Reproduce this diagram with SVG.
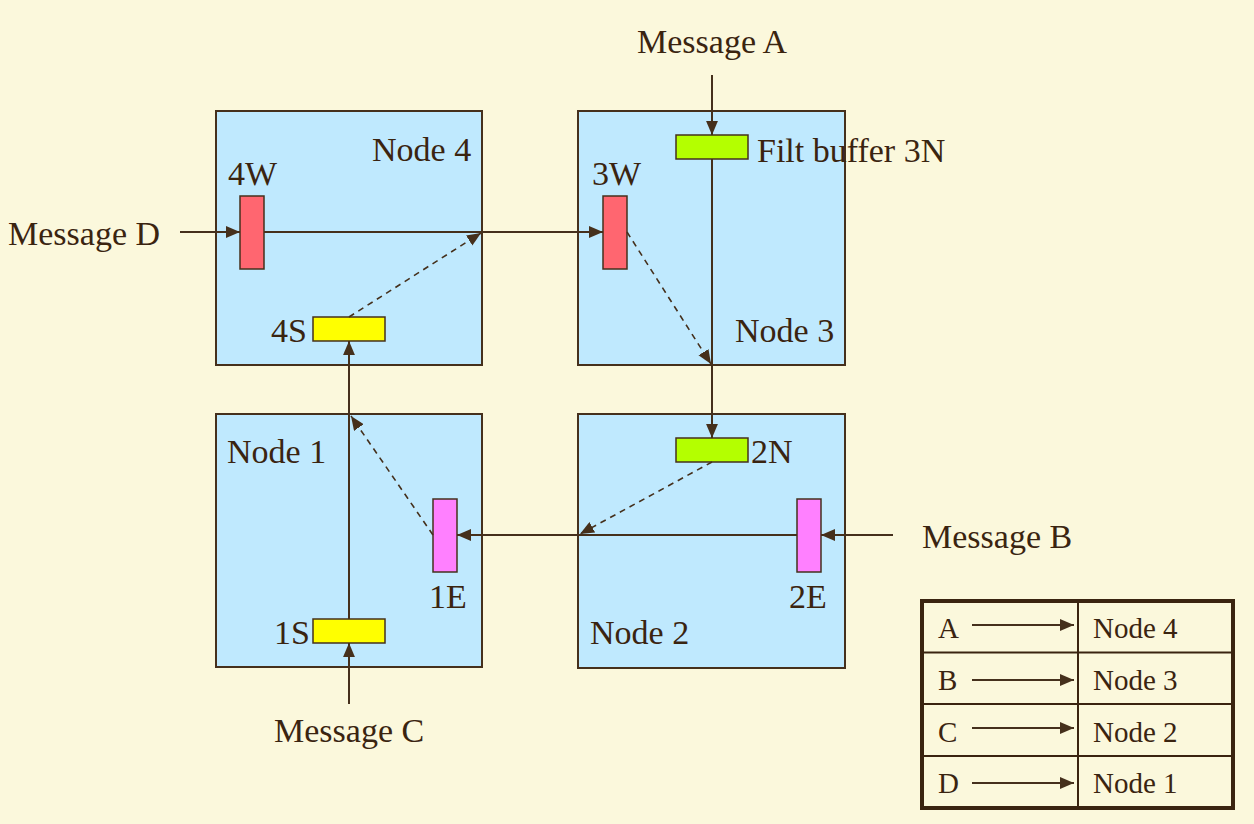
<svg xmlns="http://www.w3.org/2000/svg" width="1254" height="824" viewBox="0 0 1254 824">
<style>
.bg{fill:#FBF8DC}
.node{fill:#BFE9FE;stroke:#45301C;stroke-width:2}
.red{fill:#FF6670;stroke:#45301C;stroke-width:1.5}
.mag{fill:#FF80FF;stroke:#45301C;stroke-width:1.5}
.yel{fill:#FFFF00;stroke:#45301C;stroke-width:1.5}
.grn{fill:#B4FF00;stroke:#45301C;stroke-width:1.5}
.ln{fill:none;stroke:#45301C;stroke-width:2;marker-end:url(#ah)}
.dash{fill:none;stroke:#45301C;stroke-width:1.6;stroke-dasharray:6 5;marker-end:url(#ah)}
text{font-family:"Liberation Serif","Times New Roman",serif;fill:#3A2410;font-size:34px}
.t{font-size:29px}
</style>
<defs>
<marker id="ah" markerUnits="userSpaceOnUse" markerWidth="14" markerHeight="12" refX="13" refY="5.5" orient="auto" viewBox="0 0 13 11">
<path d="M0,0 L13,5.5 L0,11 z" fill="#45301C"/>
</marker>
</defs>
<rect class="bg" x="0" y="0" width="1254" height="824"/>
<g id="node4">
<rect class="node" x="216" y="111" width="266" height="254"/>
<text x="372" y="161">Node 4</text>
<rect class="red" x="240" y="196" width="24" height="73"/>
<text x="228" y="185">4W</text>
<rect class="yel" x="313" y="317" width="72" height="24"/>
<text x="271" y="342">4S</text>
</g>
<g id="node3">
<rect class="node" x="578" y="111" width="267" height="254"/>
<text x="735" y="342">Node 3</text>
<rect class="red" x="603" y="196" width="24" height="73"/>
<text x="592" y="185">3W</text>
<rect class="grn" x="676" y="135" width="72" height="24"/>
<text x="757" y="162">Filt buffer 3N</text>
</g>
<g id="node1">
<rect class="node" x="216" y="414" width="266" height="253"/>
<text x="227" y="463">Node 1</text>
<rect class="mag" x="433" y="499" width="24" height="73"/>
<text x="429" y="608">1E</text>
<rect class="yel" x="313" y="619" width="72" height="24"/>
<text x="274" y="644">1S</text>
</g>
<g id="node2">
<rect class="node" x="578" y="414" width="267" height="254"/>
<text x="590" y="644">Node 2</text>
<rect class="grn" x="676" y="438" width="72" height="24"/>
<text x="751" y="463">2N</text>
<rect class="mag" x="797" y="499" width="24" height="73"/>
<text x="789" y="608">2E</text>
</g>
<g id="labels">
<text x="637" y="53">Message A</text>
<text x="922" y="548">Message B</text>
<text x="274" y="742">Message C</text>
<text x="8" y="245">Message D</text>
</g>
<g id="connectors">
<path class="ln" d="M180,232 H240"/>
<path class="ln" d="M264,232 H603"/>
<path class="ln" d="M712,75 V135"/>
<path class="ln" d="M712,159 V438"/>
<path class="dash" d="M627,232 L711,364"/>
<path class="ln" d="M893,535 H821"/>
<path class="ln" d="M797,535 H457"/>
<path class="dash" d="M712,462 L580,534"/>
<path class="dash" d="M433,535 L351,416"/>
<path class="ln" d="M349,704 V643"/>
<path class="ln" d="M349,619 V341"/>
<path class="dash" d="M349,317 L481,233"/>
</g>
<g id="legend">
<rect x="922" y="601" width="311" height="207" fill="none" stroke="#3A2410" stroke-width="4"/>
<path d="M1078,601 V808 M922,652.5 H1233 M922,704 H1233 M922,756 H1233" stroke="#3A2410" stroke-width="2" fill="none"/>
<text class="t" x="938" y="638">A</text>
<text class="t" x="938" y="690">B</text>
<text class="t" x="938" y="742">C</text>
<text class="t" x="938" y="793">D</text>
<text class="t" x="1093" y="638">Node 4</text>
<text class="t" x="1093" y="690">Node 3</text>
<text class="t" x="1093" y="742">Node 2</text>
<text class="t" x="1093" y="793">Node 1</text>
<path class="ln" d="M972,625 H1074"/>
<path class="ln" d="M972,680 H1074"/>
<path class="ln" d="M972,728 H1074"/>
<path class="ln" d="M972,783 H1074"/>
</g>
</svg>
